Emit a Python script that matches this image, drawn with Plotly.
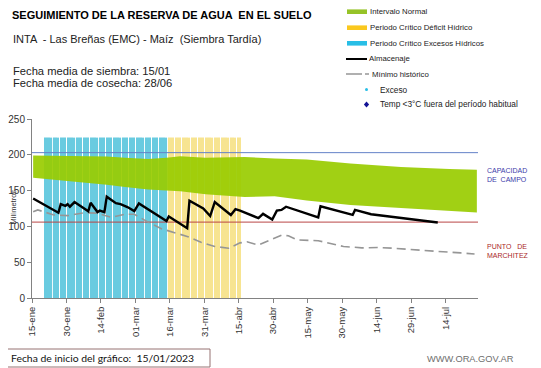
import plotly.graph_objects as go

# ---------------- DATA ----------------
# day index 0 = 15-ene-2023
tick_days = [0, 15, 30, 45, 60, 75, 90, 105, 120, 135, 150, 165, 180]
tick_labels = ["15-ene", "30-ene", "14-feb", "01-mar", "16-mar", "31-mar", "15-abr",
               "30-abr", "15-may", "30-may", "14-jun", "29-jun", "14-jul"]
n_days = 194

# Intervalo normal (upper / lower limits)
normal_days = [0, 10, 20, 32, 40, 50, 58, 64, 75, 92, 105, 112, 119, 138, 160, 181, 193]
normal_upper = [199, 198.5, 198, 197.5, 196, 194, 196, 198, 196, 197, 195, 194.5, 193.5, 188, 183, 180, 179]
normal_lower = [168, 165, 162.5, 158, 155, 151.5, 150, 149, 145, 141, 142, 139, 136, 130, 125.5, 121.8, 119.5]

# Almacenaje
alm_days = [0, 11, 12, 14, 15, 16, 18, 24, 25, 28, 29, 31, 32, 36, 38, 41, 44, 46, 58, 59, 67, 68,
            74, 77, 79, 86, 88, 90, 98, 100, 104, 106, 108, 110, 124, 125, 139, 140, 147, 160, 176]
alm_vals = [139, 119, 131, 128.5, 131, 127.5, 134, 121, 133, 120, 122, 120, 141.5, 132.5, 131, 127, 121.5, 132, 107.5, 114, 97.5, 136,
            125, 114.5, 134, 116, 124, 122, 111.5, 117.5, 109.5, 122, 123, 127.5, 112.5, 128, 116, 123, 117, 111.5, 105.5]

# Minimo historico
min_days = [0, 2, 9, 15, 22, 28, 34, 40, 44, 50, 56, 60, 67, 73, 79, 85, 90, 93, 98, 103, 108, 111,
            115, 124, 135, 143, 150, 157, 164, 176, 186, 192]
min_vals = [120.5, 123, 116, 115, 119, 118.5, 112.5, 117, 117, 106, 96.5, 93, 86, 78, 72, 69.5, 77, 78.5, 74, 81, 87.5, 87,
            81, 80, 72, 70, 70.5, 69.5, 67.5, 65, 63, 61.5]

# Periodos criticos (first day, last day) and bar height
exceso_period = (5, 58)
deficit_period = (59, 90)
period_bar_height = 224

capacidad_campo = 203
punto_marchitez = 106

# ---------------- GEOMETRY ----------------
# the page body has an 8px margin, so the figure is drawn 8px smaller and
# all page coordinates below are converted to paper coordinates
PAGE_OFF = 8
W, H = 541 - PAGE_OFF, 368 - PAGE_OFF
PL, PR, PT, PB = 32, 478, 119, 298          # plot area in page pixels
L, T = PL - PAGE_OFF, PT - PAGE_OFF
R, B = 541 - PR, 368 - PB
PW, PH = PR - PL, PB - PT


def px(x):
    return (x - PL) / PW


def py(y):
    return (PB - y) / PH


fig = go.Figure()

exc_days = list(range(exceso_period[0], exceso_period[1] + 1))
def_days = list(range(deficit_period[0], deficit_period[1] + 1))

fig.add_trace(go.Bar(x=exc_days, y=[period_bar_height] * len(exc_days), width=0.5,
                     marker=dict(color="rgb(105,203,224)", line=dict(width=0)), showlegend=False))
fig.add_trace(go.Bar(x=def_days, y=[period_bar_height] * len(def_days), width=0.5,
                     marker=dict(color="rgb(247,228,145)", line=dict(width=0)), showlegend=False))

fig.add_trace(go.Scatter(x=normal_days, y=normal_lower, mode="lines", line=dict(width=0),
                         showlegend=False, hoverinfo="skip"))
fig.add_trace(go.Scatter(x=normal_days, y=normal_upper, mode="lines", line=dict(width=0),
                         fill="tonexty", fillcolor="rgba(153,204,0,0.92)", showlegend=False))

fig.add_trace(go.Scatter(x=[-0.5, n_days - 0.5], y=[capacidad_campo] * 2, mode="lines",
                         line=dict(color="rgb(100,130,200)", width=1), showlegend=False))
fig.add_trace(go.Scatter(x=[-0.5, n_days - 0.5], y=[punto_marchitez] * 2, mode="lines",
                         line=dict(color="rgb(185,70,70)", width=1), showlegend=False))

fig.add_trace(go.Scatter(x=min_days, y=min_vals, mode="lines",
                         line=dict(color="rgb(150,150,150)", width=1.6, dash="9px,5px"), showlegend=False))
fig.add_trace(go.Scatter(x=alm_days, y=alm_vals, mode="lines",
                         line=dict(color="black", width=2.4), showlegend=False))

FONT = "Liberation Sans, Arial, sans-serif"
ann = []


def text(x, y, s, size, color="#111", bold=False, anchor="left", fam=FONT):
    if bold:
        s = "<b>" + s + "</b>"
    ann.append(dict(x=px(x), y=py(y), xref="paper", yref="paper", text=s, showarrow=False,
                    xanchor=anchor, yanchor="middle", font=dict(size=size, color=color, family=fam)))


text(10, 15, "SEGUIMIENTO DE LA RESERVA DE AGUA  EN EL SUELO", 11, "#000", bold=True)
text(11, 38.5, "INTA  - Las Breñas (EMC) - Maíz  (Siembra Tardía)", 11, "#222")
text(11, 70.5, "Fecha media de siembra: 15/01", 11.2, "#222")
text(11, 83, "Fecha media de cosecha: 28/06", 11.2, "#222")

text(485, 170, "CAPACIDAD", 7, "rgb(60,60,170)")
text(485, 179, "DE  CAMPO", 7, "rgb(60,60,170)")
text(485, 246.5, "PUNTO   DE", 7, "rgb(170,40,40)")
text(485, 255.5, "MARCHITEZ", 7, "rgb(170,40,40)")

# y-axis title
ann.append(dict(x=px(12.5), y=py(207), xref="paper", yref="paper", text="Milímetros", textangle=-90,
                showarrow=False, xanchor="center", yanchor="middle",
                font=dict(size=7.5, color="#333", family=FONT)))

# legend
shapes = []
leg_items = [("Intervalo Normal", 11.7, "rgb(150,195,40)"),
             ("Periodo Crítico Déficit Hídrico", 27.7, "rgb(250,200,30)"),
             ("Periodo Crítico Excesos Hídricos", 43.3, "rgb(40,190,230)")]
for lab, yy, col in leg_items:
    shapes.append(dict(type="rect", xref="paper", yref="paper", x0=px(347), x1=px(367),
                       y0=py(yy - 2.3), y1=py(yy + 2.3), fillcolor=col, line=dict(width=0)))
    text(368, yy, lab, 7.8, "#222")
shapes.append(dict(type="line", xref="paper", yref="paper", x0=px(346), x1=px(367), y0=py(59), y1=py(59),
                   line=dict(color="black", width=2)))
text(367, 59, "Almacenaje", 7.8, "#222")
shapes.append(dict(type="line", xref="paper", yref="paper", x0=px(346), x1=px(362), y0=py(74), y1=py(74),
                   line=dict(color="rgb(150,150,150)", width=1.5)))
shapes.append(dict(type="line", xref="paper", yref="paper", x0=px(365), x1=px(369), y0=py(74), y1=py(74),
                   line=dict(color="rgb(150,150,150)", width=1.5)))
text(370, 74, "Mínimo histórico", 7.8, "#222")
shapes.append(dict(type="circle", xref="paper", yref="paper", x0=px(365), x1=px(368), y0=py(88), y1=py(91),
                   fillcolor="rgb(40,190,230)", line=dict(width=0)))
text(378, 89.5, "Exceso", 8.3, "#222")
dx, dy = 2.6, 3.0
cx, cy = 366.5, 104.5
shapes.append(dict(type="path", xref="paper", yref="paper",
                   path=f"M {px(cx)} {py(cy-dy)} L {px(cx+dx)} {py(cy)} L {px(cx)} {py(cy+dy)} L {px(cx-dx)} {py(cy)} Z",
                   fillcolor="rgb(20,20,150)", line=dict(width=0)))
text(378, 104.5, "Temp &lt;3°C fuera del período habitual", 8.3, "#222")

# bottom box
shapes.append(dict(type="rect", xref="paper", yref="paper", x0=px(3.5), x1=px(210), y0=py(349), y1=py(367),
                   fillcolor="white", line=dict(color="rgb(150,115,115)", width=1)))
text(8.5, 358, "Fecha de inicio del gráfico:  15/01/2023", 10.4, "#111", fam="Lato, Liberation Sans, sans-serif")
text(470, 359, "WWW.ORA.GOV.AR", 9.3, "rgb(110,110,110)", anchor="center")

fig.update_layout(
    width=W, height=H, autosize=False,
    margin=dict(l=L, r=R, t=T, b=B, autoexpand=False),
    paper_bgcolor="white", plot_bgcolor="white",
    barmode="overlay", showlegend=False,
    annotations=ann, shapes=shapes,
    font=dict(family=FONT),
    xaxis=dict(range=[-0.5, n_days - 0.5], tickmode="array",
               tickvals=[d - 0.5 for d in tick_days], ticktext=tick_labels,
               tickangle=-90, tickfont=dict(size=9.5, color="#333"),
               showline=True, linecolor="rgb(130,130,130)", linewidth=1,
               ticks="outside", ticklen=4, tickcolor="rgb(130,130,130)",
               showgrid=False, zeroline=False, fixedrange=True, automargin=False),
    yaxis=dict(range=[0, 250], tickvals=[0, 50, 100, 150, 200, 250],
               tickfont=dict(size=10, color="#333"),
               showline=True, linecolor="rgb(130,130,130)", linewidth=1,
               ticks="outside", ticklen=4, tickcolor="rgb(130,130,130)",
               showgrid=False, zeroline=False, fixedrange=True, automargin=False),
)

fig.write_html("out.html")
